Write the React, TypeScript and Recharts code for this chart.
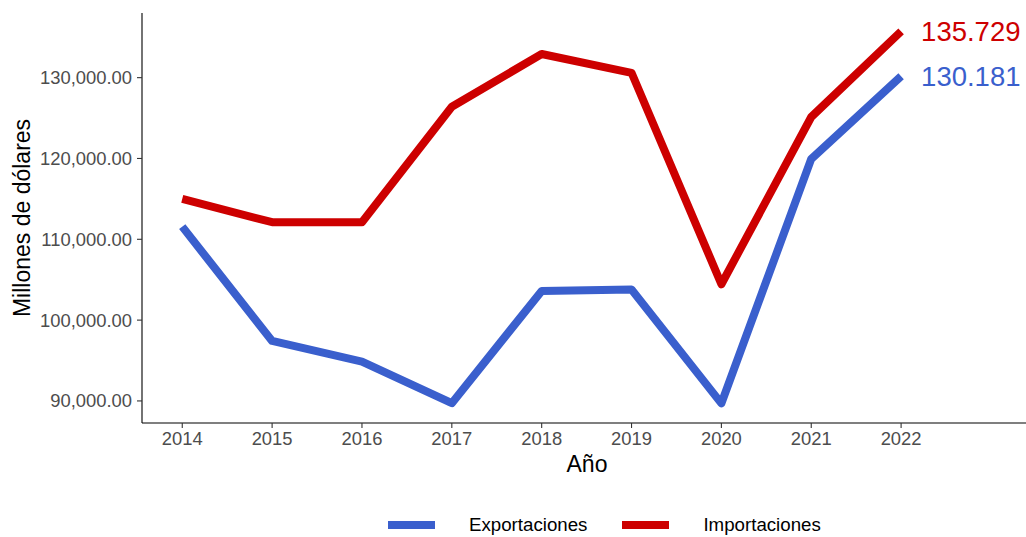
import { LineChart, Line, XAxis, YAxis, Legend, LabelList, Label } from "recharts";

const years = [2014, 2015, 2016, 2017, 2018, 2019, 2020, 2021, 2022];
const exportaciones = [111565, 97420, 94860, 89720, 103610, 103800, 89700, 119940, 130181];
const importaciones = [114990, 112110, 112110, 126400, 132930, 130600, 104440, 125130, 135729];
const yTicks = [90000, 100000, 110000, 120000, 130000];

const BLUE = "#3A5FCD";
const RED = "#CD0000";
const FONT = "'Liberation Sans', Arial, sans-serif";

const data = years.map((year, i) => ({
  year,
  exportaciones: exportaciones[i],
  importaciones: importaciones[i],
}));

// 135729 -> "135.729"
const formatEnd = (v: number) => String(Math.round(v)).replace(/\B(?=(\d{3})+(?!\d))/g, ".");
const formatTick = (v: number) =>
  v.toLocaleString("en-US", { minimumFractionDigits: 2, maximumFractionDigits: 2 });

const endLabel = (color: string) => (props: any) => {
  const { x, y, index, value } = props;
  if (index !== years.length - 1) return null;
  return (
    <text x={x + 20} y={y} fill={color} fontSize={27.5} fontFamily={FONT} dominantBaseline="central">
      {formatEnd(value)}
    </text>
  );
};

const LegendContent = () => (
  <div style={{ display: "flex", alignItems: "center", fontFamily: FONT, fontSize: 18.7, lineHeight: "20px", color: "#000" }}>
    {[
      { label: "Exportaciones", color: BLUE },
      { label: "Importaciones", color: RED },
    ].map((item, i) => (
      <div key={item.label} style={{ display: "flex", alignItems: "center", marginLeft: i === 0 ? 0 : 35 }}>
        <span style={{ display: "inline-block", width: 47, height: 8, background: item.color, marginRight: 34 }} />
        <span>{item.label}</span>
      </div>
    ))}
  </div>
);

export default function App() {
  return (
    <div style={{ position: "absolute", left: 0, top: 0, width: 1026, height: 537, background: "#fff", overflow: "hidden" }}>
      <LineChart width={1026} height={537} data={data} margin={{ top: 13, right: 0, bottom: 84, left: 0 }}>
        <XAxis
          dataKey="year"
          type="number"
          domain={[2013.552, 2023.39]}
          ticks={years}
          allowDataOverflow
          height={30}
          tickSize={5}
          tickMargin={4}
          axisLine={{ stroke: "#000", strokeWidth: 1.1 }}
          tickLine={{ stroke: "#333", strokeWidth: 1.1 }}
          tick={{ fill: "#4D4D4D", fontSize: 18.4, fontFamily: FONT }}
        >
          <Label
            content={() => (
              <text x={587} y={472} textAnchor="middle" fontSize={23} fontFamily={FONT} fill="#000">
                Año
              </text>
            )}
          />
        </XAxis>
        <YAxis
          type="number"
          domain={[87270, 138000]}
          ticks={yTicks}
          allowDataOverflow
          width={142}
          tickSize={5}
          tickMargin={5}
          tickFormatter={formatTick}
          axisLine={{ stroke: "#000", strokeWidth: 1.1 }}
          tickLine={{ stroke: "#333", strokeWidth: 1.1 }}
          tick={{ fill: "#4D4D4D", fontSize: 18.4, fontFamily: FONT }}
        >
          <Label
            content={() => (
              <text
                x={22}
                y={218}
                transform="rotate(-90 22 218)"
                textAnchor="middle"
                dominantBaseline="central"
                fontSize={23}
                fontFamily={FONT}
                fill="#000"
              >
                Millones de dólares
              </text>
            )}
          />
        </YAxis>
        <Legend
          layout="horizontal"
          verticalAlign="middle"
          align="center"
          content={<LegendContent />}
          wrapperStyle={{ position: "absolute", left: 388, top: 515, width: "auto" }}
        />
        <Line
          dataKey="exportaciones"
          name="Exportaciones"
          stroke={BLUE}
          strokeWidth={8}
          strokeLinejoin="round"
          strokeLinecap="butt"
          dot={false}
          activeDot={false}
          isAnimationActive={false}
        >
          <LabelList dataKey="exportaciones" content={endLabel(BLUE)} />
        </Line>
        <Line
          dataKey="importaciones"
          name="Importaciones"
          stroke={RED}
          strokeWidth={8}
          strokeLinejoin="round"
          strokeLinecap="butt"
          dot={false}
          activeDot={false}
          isAnimationActive={false}
        >
          <LabelList dataKey="importaciones" content={endLabel(RED)} />
        </Line>
      </LineChart>
    </div>
  );
}
